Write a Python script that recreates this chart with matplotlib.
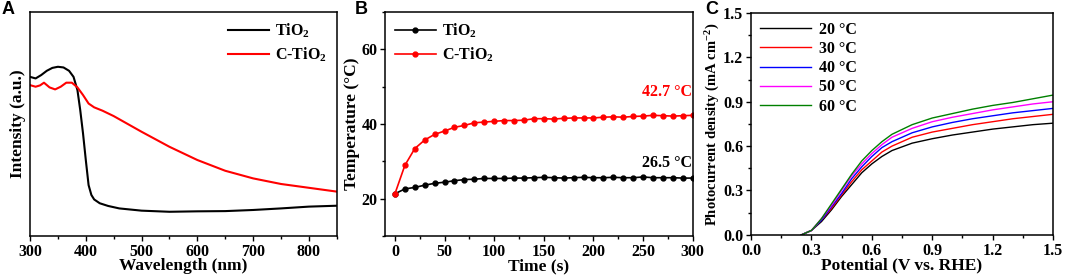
import matplotlib
matplotlib.use("Agg")
import matplotlib.pyplot as plt
from matplotlib.ticker import MultipleLocator

plt.rcParams['font.family'] = ['Liberation Serif', 'DejaVu Serif']
plt.rcParams['font.weight'] = 'bold'
plt.rcParams['mathtext.fontset'] = 'custom'
plt.rcParams['mathtext.rm'] = 'Liberation Serif:bold'
plt.rcParams['mathtext.it'] = 'Liberation Serif:bold'
plt.rcParams['mathtext.bf'] = 'Liberation Serif:bold'

# Panel A: absorption spectra
wl_tio2 = [300, 310, 320, 330, 340, 350, 360, 370, 378, 385, 390, 395, 400, 405, 410, 415,
           425, 440, 460, 500, 550, 600, 650, 700, 750, 800, 850]
int_tio2 = [0.710, 0.703, 0.718, 0.737, 0.750, 0.755, 0.752, 0.737, 0.710, 0.651, 0.562, 0.458,
            0.339, 0.227, 0.183, 0.163, 0.146, 0.134, 0.123, 0.113, 0.108, 0.110, 0.111, 0.116,
            0.123, 0.131, 0.135]
wl_ctio2 = [300, 310, 318, 325, 335, 345, 355, 365, 375, 385, 395, 405, 415, 430, 450, 500,
            550, 600, 650, 700, 750, 800, 850]
int_ctio2 = [0.673, 0.666, 0.672, 0.684, 0.663, 0.654, 0.666, 0.684, 0.684, 0.663, 0.629, 0.591,
             0.574, 0.559, 0.535, 0.465, 0.398, 0.339, 0.291, 0.257, 0.232, 0.215, 0.198]

# Panel B: photothermal heating
time_s = list(range(0, 301, 10))
temp_tio2 = [21.3, 22.6, 23.0, 23.6, 24.1, 24.4, 24.8, 25.1, 25.2, 25.4, 25.4, 25.4, 25.5, 25.5,
             25.6, 25.7, 25.6, 25.5, 25.6, 25.7, 25.6, 25.6, 25.7, 25.6, 25.6, 25.8, 25.6, 25.6,
             25.6, 25.5, 25.5]
temp_ctio2 = [21.3, 28.9, 33.4, 35.7, 37.2, 38.1, 39.1, 39.6, 40.3, 40.5, 40.7, 40.9, 40.9, 41.0,
              41.4, 41.4, 41.3, 41.5, 41.6, 41.6, 41.6, 41.8, 41.9, 41.8, 42.0, 42.1, 42.3, 42.2,
              42.1, 42.2, 42.3]

# Panel C: LSV curves at different temperatures
potential = [0.25, 0.3, 0.35, 0.4, 0.45, 0.5, 0.55, 0.6, 0.65, 0.7, 0.8, 0.9, 1.0, 1.1, 1.2,
             1.3, 1.4, 1.5]
j_20 = [0, 0.03, 0.09, 0.17, 0.26, 0.34, 0.42, 0.48, 0.53, 0.57, 0.62, 0.65, 0.675, 0.695,
        0.715, 0.73, 0.745, 0.755]
j_30 = [0, 0.03, 0.10, 0.18, 0.27, 0.36, 0.44, 0.50, 0.56, 0.60, 0.66, 0.695, 0.72, 0.745,
        0.765, 0.785, 0.80, 0.815]
j_40 = [0, 0.03, 0.10, 0.19, 0.28, 0.38, 0.46, 0.53, 0.59, 0.63, 0.69, 0.73, 0.76, 0.785,
        0.805, 0.825, 0.84, 0.855]
j_50 = [0, 0.03, 0.11, 0.20, 0.30, 0.40, 0.48, 0.55, 0.61, 0.66, 0.72, 0.765, 0.795, 0.82,
        0.845, 0.865, 0.885, 0.90]
j_60 = [0, 0.03, 0.11, 0.21, 0.31, 0.41, 0.50, 0.57, 0.63, 0.68, 0.745, 0.79, 0.82, 0.85,
        0.875, 0.895, 0.92, 0.945]
temps_c = ["20 °C", "30 °C", "40 °C", "50 °C", "60 °C"]
colors_c = ["black", "red", "blue", "magenta", "green"]

fig = plt.figure(figsize=(10.65, 2.76), dpi=100)
axA = fig.add_axes([0.0282, 0.145, 0.288, 0.812])
axB = fig.add_axes([0.3615, 0.145, 0.289, 0.812])
axC = fig.add_axes([0.7052, 0.149, 0.2836, 0.804])

tick_fs = 11.5
label_fs = 12.5
for ax in (axA, axB, axC):
    for s in ax.spines.values():
        s.set_linewidth(1.1)
    ax.tick_params(which='both', direction='out', width=1.0, labelsize=tick_fs, pad=2)
    ax.tick_params(which='major', length=3.5)
    ax.tick_params(which='minor', length=2)

# A
axA.plot(wl_tio2, int_tio2, color='black', lw=1.5, label='TiO$_2$')
axA.plot(wl_ctio2, int_ctio2, color='red', lw=1.5, label='C-TiO$_2$')
axA.set_xlim(300, 850)
axA.set_ylim(0, 1)
axA.set_yticks([])
axA.xaxis.set_major_locator(MultipleLocator(100))
axA.xaxis.set_minor_locator(MultipleLocator(50))
axA.set_xlabel('Wavelength (nm)', fontsize=label_fs, fontweight='bold', labelpad=-1)
axA.set_ylabel('Intensity (a.u.)', fontsize=label_fs, fontweight='bold', labelpad=3)
axA.legend(loc='upper right', frameon=False, fontsize=tick_fs, handlelength=2.6,
           handletextpad=0.4, borderaxespad=0.2, labelspacing=0.35)

# B
axB.plot(time_s, temp_tio2, color='black', lw=1.2, marker='o', ms=3.5, label='TiO$_2$')
axB.plot(time_s, temp_ctio2, color='red', lw=1.2, marker='o', ms=3.5, label='C-TiO$_2$')
axB.set_xlim(-10, 300)
axB.set_ylim(10, 70)
axB.xaxis.set_major_locator(MultipleLocator(50))
axB.xaxis.set_minor_locator(MultipleLocator(25))
axB.yaxis.set_major_locator(MultipleLocator(20))
axB.yaxis.set_minor_locator(MultipleLocator(10))
axB.set_xlabel('Time (s)', fontsize=label_fs, fontweight='bold', labelpad=-1)
axB.set_ylabel('Temperature (°C)', fontsize=label_fs, fontweight='bold', labelpad=1)
axB.legend(loc='upper left', frameon=False, fontsize=tick_fs, handlelength=2.6,
           handletextpad=0.4, borderaxespad=0.2, labelspacing=0.35)
axB.text(299, 46.3, '42.7 °C', color='red', fontsize=tick_fs, fontweight='bold', ha='right', va='bottom')
axB.text(299, 27.3, '26.5 °C', color='black', fontsize=tick_fs, fontweight='bold', ha='right', va='bottom')

# C
for j, lab, c in zip([j_20, j_30, j_40, j_50, j_60], temps_c, colors_c):
    axC.plot(potential, j, color=c, lw=1.0, label=lab)
axC.set_xlim(0, 1.5)
axC.set_ylim(0, 1.5)
axC.xaxis.set_major_locator(MultipleLocator(0.3))
axC.xaxis.set_minor_locator(MultipleLocator(0.15))
axC.yaxis.set_major_locator(MultipleLocator(0.3))
axC.yaxis.set_minor_locator(MultipleLocator(0.15))
axC.xaxis.set_major_formatter(plt.FormatStrFormatter('%.1f'))
axC.yaxis.set_major_formatter(plt.FormatStrFormatter('%.1f'))
axC.set_xlabel('Potential (V vs. RHE)', fontsize=label_fs, fontweight='bold', labelpad=-1)
axC.set_ylabel('Photocurrent density (mA cm$^{-2}$)', fontsize=10.5, fontweight='bold', labelpad=1)
axC.legend(loc='upper left', frameon=False, fontsize=tick_fs, handlelength=3.2,
           handletextpad=0.5, borderaxespad=0.15, labelspacing=0.2)

# Panel letters
for x, s in [(0.001, 'A'), (0.333, 'B'), (0.662, 'C')]:
    fig.text(x, 0.998, s, fontsize=13, fontweight='bold', family='Liberation Sans', va='top')

fig.savefig('out.png', dpi=100)
